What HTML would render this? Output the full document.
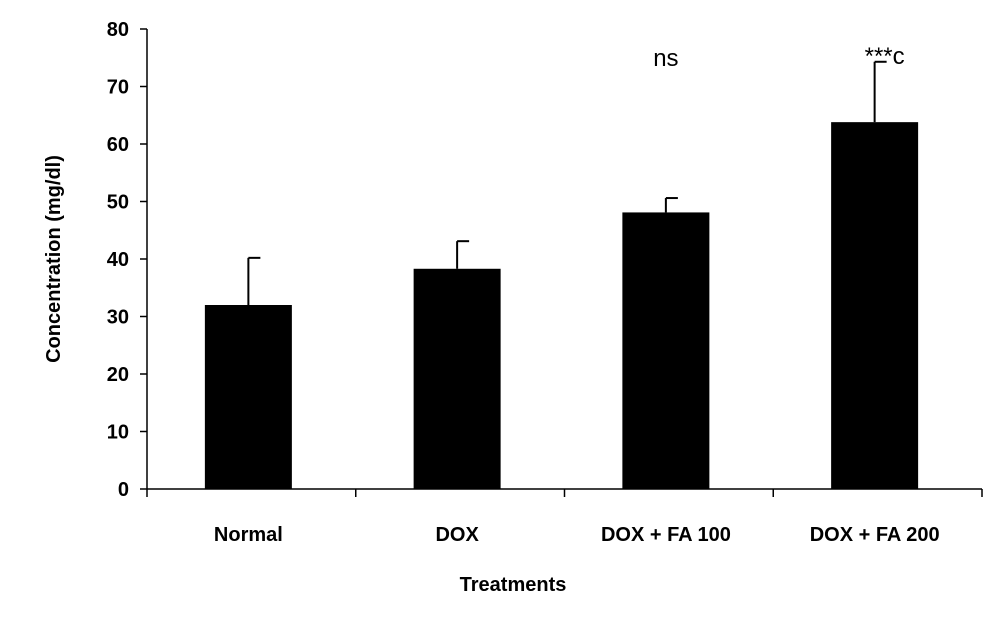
<!DOCTYPE html>
<html><head><style>
body{margin:0;background:#fff;}
svg text{font-family:"Liberation Sans",sans-serif;font-weight:bold;fill:#000;}
</style></head><body>
<svg id="c" width="1000" height="632"></svg>
<script>
const categories=["Normal","DOX","DOX + FA 100","DOX + FA 200"];
const values=[32,38.3,48.1,63.8];
const errors=[8.2,4.8,2.5,10.5];
const annotations=["","","ns","***c"];
const yTicks=[0,10,20,30,40,50,60,70,80];
const NS="http://www.w3.org/2000/svg";
const svg=document.getElementById('c');
const x0=147,x1=982,y0=489,y80=29;
const y=v=>y0-(v/80)*(y0-y80);
const band=(x1-x0)/categories.length;
const xc=i=>x0+band*(i+0.5)-3;
function el(t,a,txt){const e=document.createElementNS(NS,t);for(const k in a)e.setAttribute(k,a[k]);if(txt!==undefined)e.textContent=txt;svg.appendChild(e);return e;}
let e;
e=el('line',{x1:x0,y1:y80,x2:x0,y2:y0,stroke:'#000','stroke-width':1.5});


e=el('line',{x1:x0,y1:y0,x2:x1,y2:y0,stroke:'#000','stroke-width':1.5});


yTicks.forEach(t=>{
 e=el('line',{x1:x0-7,y1:y(t),x2:x0,y2:y(t),stroke:'#000','stroke-width':1.5});
 
 
 e=el('text',{x:x0-18,y:y(t)+7,'font-size':20,'text-anchor':'end'},t);
 
 
});
for(let i=0;i<=categories.length;i++){
 e=el('line',{x1:x0+band*i,y1:y0,x2:x0+band*i,y2:y0+8,stroke:'#000','stroke-width':1.5});
 
 
}
const bw=87;
categories.forEach((c,i)=>{
 const cx=xc(i);
 e=el('line',{x1:cx,y1:y(values[i]),x2:cx,y2:y(values[i]+errors[i]),stroke:'#000','stroke-width':2});
 
 
 e=el('line',{x1:cx,y1:y(values[i]+errors[i]),x2:cx+12,y2:y(values[i]+errors[i]),stroke:'#000','stroke-width':2});
 
 
 e=el('rect',{x:cx-bw/2,y:y(values[i]),width:bw,height:y0-y(values[i]),fill:'#000'});
 
 
 e=el('text',{x:cx,y:541,'font-size':20,'text-anchor':'middle'},c);
 
 
 if(annotations[i]){
  e=el('text',{x:cx+(i==3?10:0),y:i==3?64:66,'font-size':24,'text-anchor':'middle',style:'font-weight:normal'},annotations[i]);
  
  
 }
});
e=el('text',{x:513,y:591,'font-size':20,'text-anchor':'middle'},'Treatments');


e=el('text',{x:0,y:0,'font-size':20,'text-anchor':'middle',transform:'translate(60,259) rotate(-90)'},'Concentration (mg/dl)');


</script>
</body></html>
